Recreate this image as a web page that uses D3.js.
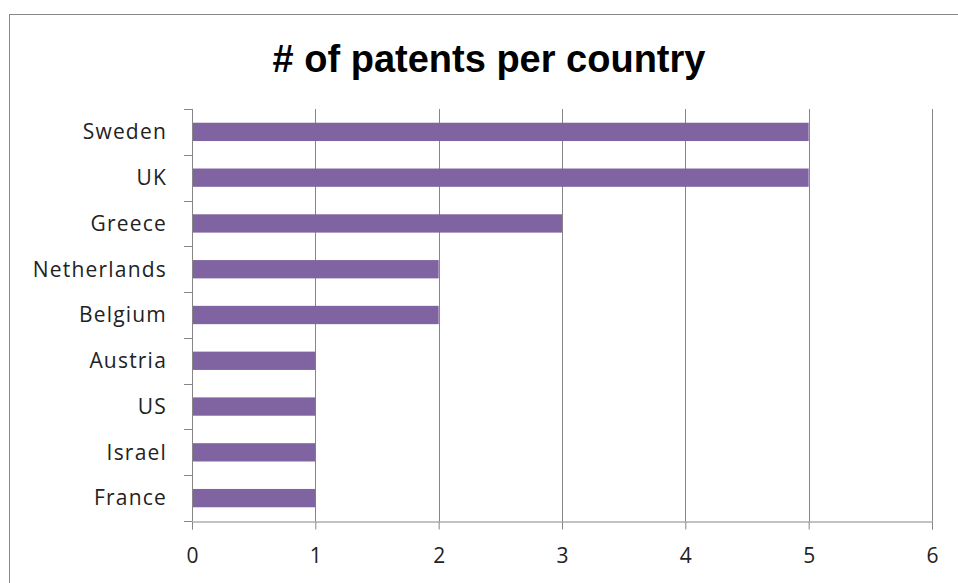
<!DOCTYPE html>
<meta charset="utf-8">
<style>
    body { margin: 0; background: #fff; }
    text { font-family: "Open Sans", Lato, sans-serif; }
</style>
<body>
    <svg width="958" height="583"></svg>
</body>
<script src="https://cdnjs.cloudflare.com/ajax/libs/d3/7.8.5/d3.min.js"></script>
<script>

    // data, top to bottom as in the picture
    var countries = ["Sweden", "UK", "Greece", "Netherlands", "Belgium", "Austria", "US", "Israel", "France"];
    var patents = [5, 5, 3, 2, 2, 1, 1, 1, 1];
    var xTicks = [0, 1, 2, 3, 4, 5, 6];

    var svg = d3.select("svg");

    // chart area border (runs off to the right and bottom)
    svg.append("rect")
        .attr("x", 9.5)
        .attr("y", 14.5)
        .attr("width", 1000)
        .attr("height", 1000)
        .attr("fill", "none")
        .attr("stroke", "#888");

    svg.append("text")
        .attr("x", 489)
        .attr("y", 72)
        .attr("text-anchor", "middle")
        .attr("font-size", 38)
        .attr("font-weight", "bold")
        .style("font-family", "'Liberation Sans', Arial, sans-serif")
        .text("# of patents per country");

    var plotLeft = 192, plotRight = 932, plotTop = 109, plotBottom = 521;

    var x = d3.scaleLinear().domain([0, 6]).range([plotLeft, plotRight]);
    var y = d3.scaleBand().domain(countries).range([plotTop, plotBottom]).paddingInner(0.6).paddingOuter(0.3);
    var yEdges = d3.scaleLinear().domain([0, countries.length]).range([plotTop, plotBottom]);

    // vertical gridlines
    svg.append("g")
        .selectAll("line")
        .data(xTicks.slice(1))
        .enter()
        .append("line")
        .attr("x1", d => Math.round(x(d)) + 0.5)
        .attr("x2", d => Math.round(x(d)) + 0.5)
        .attr("y1", plotTop)
        .attr("y2", plotBottom)
        .attr("stroke", "#868686");

    // bars
    svg.append("g")
        .selectAll("rect")
        .data(countries)
        .enter()
        .append("rect")
        .attr("x", x(0))
        .attr("y", d => y(d))
        .attr("width", (d, i) => x(patents[i]) - x(0))
        .attr("height", y.bandwidth())
        .attr("fill", "#8064A2");

    // y axis: line, ticks between categories, labels
    var yAxis = svg.append("g");
    yAxis.append("line")
        .attr("x1", plotLeft + 0.5).attr("x2", plotLeft + 0.5)
        .attr("y1", plotTop).attr("y2", plotBottom)
        .attr("stroke", "#868686");
    yAxis.selectAll(".tick")
        .data(d3.range(countries.length + 1))
        .enter()
        .append("line")
        .attr("x1", plotLeft - 8).attr("x2", plotLeft)
        .attr("y1", d => Math.round(yEdges(d)) + 0.5)
        .attr("y2", d => Math.round(yEdges(d)) + 0.5)
        .attr("stroke", "#868686");
    yAxis.selectAll("text")
        .data(countries)
        .enter()
        .append("text")
        .attr("x", 167)
        .attr("y", d => y(d) + y.bandwidth() / 2)
        .attr("dy", "0.35em")
        .attr("text-anchor", "end")
        .attr("font-size", 21)
        .attr("letter-spacing", 1.2)
        .attr("fill", "#222")
        .text(d => d);

    // x axis
    var xAxis = d3.axisBottom(x)
        .tickValues(xTicks)
        .tickSize(8)
        .tickPadding(19)
        .tickFormat(d3.format("d"));

    var gx = svg.append("g")
        .attr("transform", "translate(0," + (plotBottom + 0.5) + ")")
        .call(xAxis);
    gx.select(".domain").attr("stroke", "#868686");
    gx.selectAll(".tick line").attr("stroke", "#868686");
    gx.selectAll(".tick text")
        .attr("font-size", 21)
        .attr("fill", "#222")
        .style("font-family", "'Open Sans', Lato, sans-serif");

</script>
